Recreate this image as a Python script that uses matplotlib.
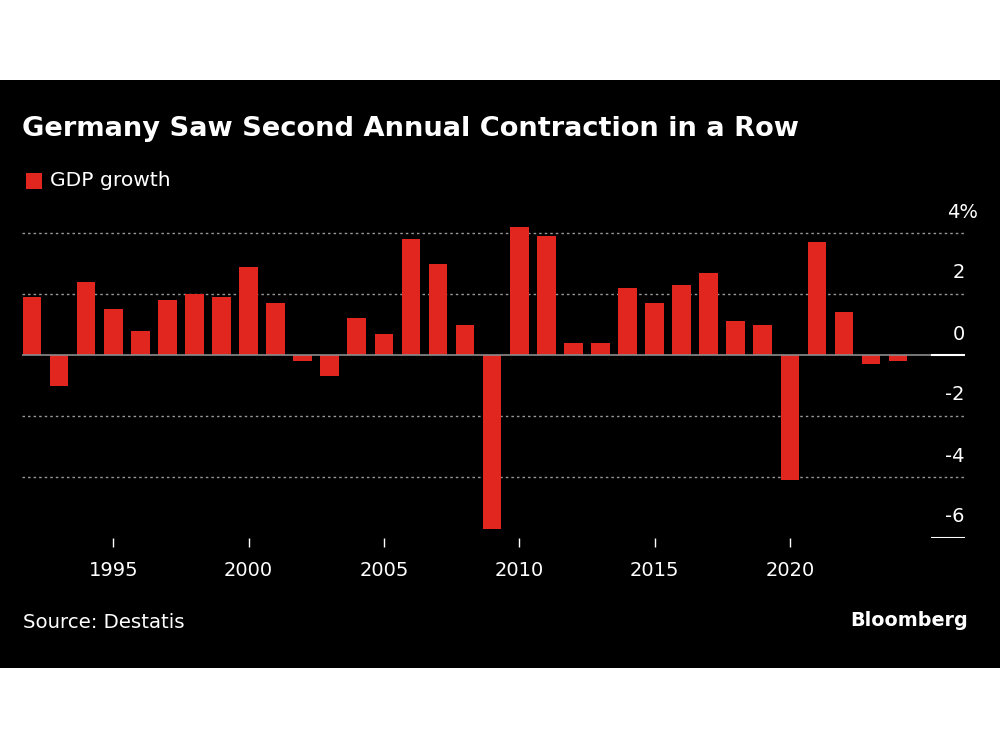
import matplotlib
matplotlib.use("Agg")
from matplotlib import pyplot as plt
from matplotlib.patches import Rectangle
from matplotlib.transforms import blended_transform_factory, offset_copy

# datos del grafico
anios = list(range(1992, 2025))
crecimiento_pib = [1.9, -1.0, 2.4, 1.5, 0.8, 1.8, 2.0, 1.9, 2.9, 1.7,
                   -0.2, -0.7, 1.2, 0.7, 3.8, 3.0, 1.0, -5.7, 4.2, 3.9,
                   0.4, 0.4, 2.2, 1.7, 2.3, 2.7, 1.1, 1.0, -4.1, 3.7,
                   1.4, -0.3, -0.2]
ticks_x = [1995, 2000, 2005, 2010, 2015, 2020]
ticks_y = [4, 2, 0, -2, -4, -6]
etiquetas_y = ["4%", "2", "0", "-2", "-4", "-6"]

titulo = "Germany Saw Second Annual Contraction in a Row"
leyenda = "GDP growth"
fuente = "Source: Destatis"

rojo = "#e0261f"
gris = "#8c8c8c"

fig = plt.figure(figsize=(10, 7.5), dpi=100)
fig.patch.set_facecolor("white")
# fondo negro del grafico
fig.patches.append(Rectangle((0, 1 - 668 / 750), 1, 588 / 750,
                             transform=fig.transFigure, facecolor="black",
                             edgecolor="none", zorder=-10))

ax = fig.add_axes([0.022, 1 - 538 / 750, 0.943, (538 - 214.7) / 750])
ax.set_facecolor("black")
ax.set_xlim(1991.63, 2026.47)
ax.set_ylim(-6, 4.6)

ax.bar(anios, crecimiento_pib, width=0.69, color=rojo, zorder=3)

# lineas de la cuadricula
for v in ticks_y:
    if v == 0:
        ax.axhline(0, xmin=0, xmax=0.965, color=gris, lw=1.2, zorder=4)
        ax.axhline(0, xmin=0.965, xmax=1, color="white", lw=1.5, zorder=4)
    elif v == -6:
        ax.axhline(-6, xmin=0.965, xmax=1, color="white", lw=1.5, zorder=4)
    else:
        ax.axhline(v, color="#999999", lw=1.0, ls=(0, (1.8, 2.2)), zorder=1)

for s in ax.spines.values():
    s.set_visible(False)

ax.set_yticks([])
ax.set_xticks(ticks_x)
ax.set_xticklabels([str(t) for t in ticks_x])
ax.tick_params(axis="x", colors="white", length=6.5, width=1, pad=10,
               labelsize=14, direction="out")

# etiquetas del eje y encima de las lineas
trans = blended_transform_factory(ax.transAxes, ax.transData)
for v, etq in zip(ticks_y, etiquetas_y):
    dx = 13 if etq.endswith("%") else 0
    t = offset_copy(trans, fig=fig, x=dx * 0.72, y=21 * 0.72, units="points")
    ax.text(1.0, v, etq, transform=t, ha="right", va="center",
            color="white", fontsize=14)

fig.text(0.022, 1 - 129 / 750, titulo, color="white", fontsize=19.6,
         fontweight="bold", ha="left", va="center")
fig.patches.append(Rectangle((0.026, 1 - 188.5 / 750), 0.016, 16 / 750,
                             transform=fig.transFigure, facecolor=rojo,
                             edgecolor="none", zorder=2))
fig.text(0.050, 1 - 180 / 750, leyenda, color="white", fontsize=14.6,
         ha="left", va="center")
fig.text(0.023, 1 - 623 / 750, fuente, color="white", fontsize=14.2,
         ha="left", va="center")
fig.text(0.968, 1 - 620 / 750, "Bloomberg", color="white", fontsize=13.8,
         fontweight="bold", ha="right", va="center")

fig.savefig("out.png", dpi=100, facecolor=fig.get_facecolor())
